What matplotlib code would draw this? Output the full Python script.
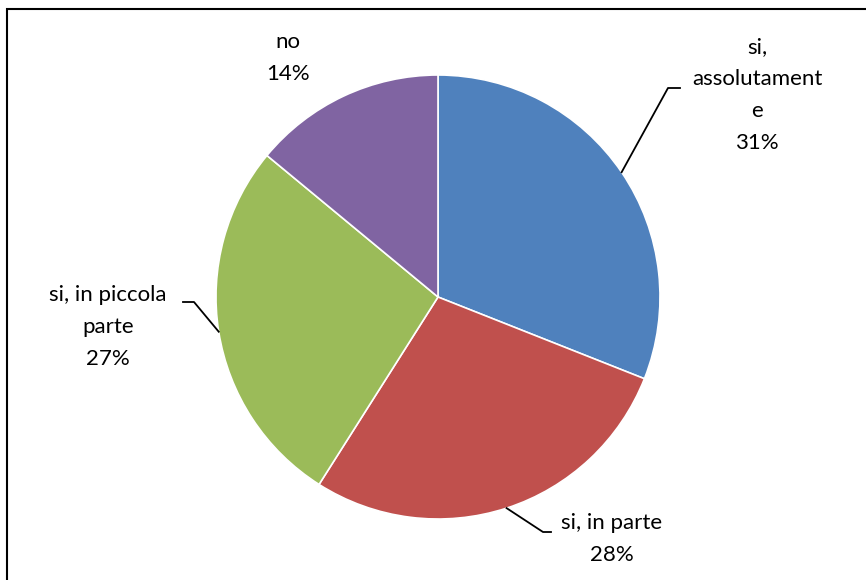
import numpy as np
import matplotlib
matplotlib.use("Agg")
import matplotlib.pyplot as plt
from matplotlib.patches import Rectangle

labels = ["si,\nassolutament\ne", "si, in parte", "si, in piccola\nparte", "no"]
values = [31, 28, 27, 14]
colors = ["#4F81BD", "#C0504D", "#9BBB59", "#8064A2"]

plt.rcParams["font.family"] = ["Lato", "DejaVu Sans"]

W, H = 866, 580
fig = plt.figure(figsize=(W / 100, H / 100), dpi=100)

# chart border (right/bottom edges fall outside the picture)
fig.patches.append(Rectangle((7 / W, 0 - 0.05), 1.0, 1 - 9 / H + 0.05,
                             transform=fig.transFigure, fill=False,
                             edgecolor="black", lw=1.5))

cx, cy, r = 438, 297, 222
ax = fig.add_axes([(cx - r) / W, (H - cy - r) / H, 2 * r / W, 2 * r / H])
wedges, _ = ax.pie(values, colors=colors, startangle=90, counterclock=False,
                   radius=1, wedgeprops=dict(edgecolor="white", linewidth=1.2))
ax.set_xlim(-1, 1)
ax.set_ylim(-1, 1)
ax.set_aspect("equal")
ax.axis("off")

def px(x, y):
    return ((x - cx) / r, (cy - y) / r)

# label text positions (pixel coords), elbow points for leader lines
texts = [
    (757, 95, "si,\nassolutament\ne\n31%", (668, 88), (680, 88)),
    (612, 539, "si, in parte\n28%", (543, 532), (551, 532)),
    (108, 327, "si, in piccola\nparte\n27%", (194, 302), (183, 302)),
    (288, 58, "no\n14%", None, None),
]

for w, (tx, ty, s, e1, e2) in zip(wedges, texts):
    ax.text(*px(tx, ty), s, ha="center", va="center", fontsize=16,
            linespacing=1.75, clip_on=False)
    if e1 is not None:
        mid = np.deg2rad((w.theta1 + w.theta2) / 2)
        sx, sy = np.cos(mid), np.sin(mid)
        x1, y1 = px(*e1)
        x2, y2 = px(*e2)
        ax.plot([sx, x1, x2], [sy, y1, y2], color="black", lw=1.3, clip_on=False)

fig.savefig("out.png", dpi=100)
